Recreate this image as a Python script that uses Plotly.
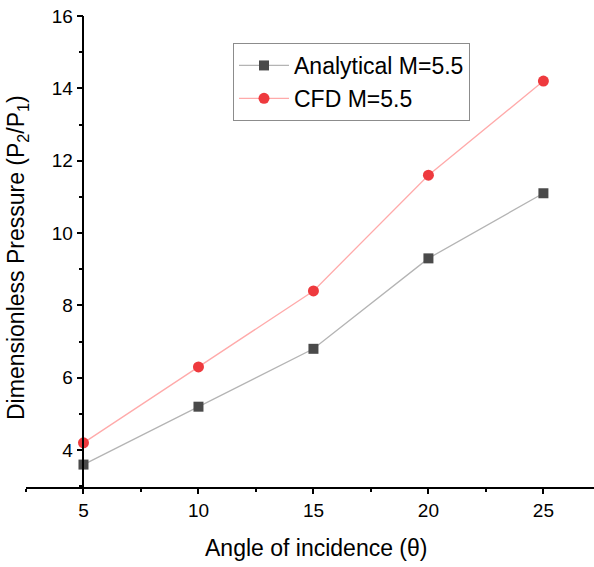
import plotly.graph_objects as go

angles = [5, 10, 15, 20, 25]
analytical = [3.6, 5.2, 6.8, 9.3, 11.1]
cfd = [4.2, 6.3, 8.4, 11.6, 14.2]
x_ticks = [5, 10, 15, 20, 25]
y_ticks = [4, 6, 8, 10, 12, 14, 16]

FONT = "Arial, Liberation Sans, sans-serif"
W, H = 594, 567
ML, MR, MT, MB = 26, 0, 16, 80
XR = [2.5, 27.2]
YR = [2.98, 16.0]

fig = go.Figure()
fig.add_trace(go.Scatter(
    x=angles, y=analytical, mode="lines+markers", name="Analytical M=5.5",
    line=dict(color="#b4b4b4", width=1.3),
    marker=dict(symbol="square", size=10, color="#4a4a4a"),
))
fig.add_trace(go.Scatter(
    x=angles, y=cfd, mode="lines+markers", name="CFD M=5.5",
    line=dict(color="#ffaaaa", width=1.3),
    marker=dict(symbol="circle", size=11, color="#ee3a3e"),
))

plot_w = W - ML - MR
plot_h = H - MT - MB
ypos = (5 - XR[0]) / (XR[1] - XR[0])

fig.update_layout(
    width=W, height=H,
    margin=dict(l=ML, r=MR, t=MT, b=MB),
    paper_bgcolor="white", plot_bgcolor="white",
    font=dict(family=FONT, size=19, color="black"),
    showlegend=True,
    legend=dict(
        x=(233 - ML) / plot_w, y=(487 - 43) / plot_h,
        xanchor="left", yanchor="top",
        bordercolor="#8c8c8c", borderwidth=1, bgcolor="white",
        font=dict(size=23, family=FONT), itemwidth=50,
        tracegroupgap=0,
    ),
    xaxis=dict(
        range=XR, tickvals=x_ticks, showgrid=False, zeroline=False,
        showline=True, linecolor="black", linewidth=1.5,
        ticks="outside", ticklen=5, tickwidth=1.5, tickcolor="black",
        minor=dict(dtick=2.5, tick0=2.5, ticks="outside", ticklen=3,
                   tickwidth=1.5, tickcolor="black"),
        tickfont=dict(size=19),
    ),
    yaxis=dict(
        range=YR, tickvals=y_ticks, showgrid=False, zeroline=False,
        anchor="free", position=ypos,
        showline=True, linecolor="black", linewidth=1.5,
        ticks="outside", ticklen=6, tickwidth=1.5, tickcolor="black",
        minor=dict(dtick=1, tick0=3, ticks="outside", ticklen=4,
                   tickwidth=1.5, tickcolor="black"),
        tickfont=dict(size=19),
    ),
    annotations=[
        dict(text="Angle of incidence (θ)", xref="paper", yref="paper",
             x=(316 - ML) / plot_w, y=(487 - 548) / plot_h,
             xanchor="center", yanchor="middle", showarrow=False,
             font=dict(size=23, family=FONT)),
        dict(text="Dimensionless Pressure (P<sub>2</sub>/P<sub>1</sub>)",
             xref="paper", yref="paper",
             x=(17 - ML) / plot_w, y=(487 - 258) / plot_h,
             xanchor="center", yanchor="middle", showarrow=False,
             textangle=-90, font=dict(size=23, family=FONT)),
    ],
)

fig.write_html("out.html")
